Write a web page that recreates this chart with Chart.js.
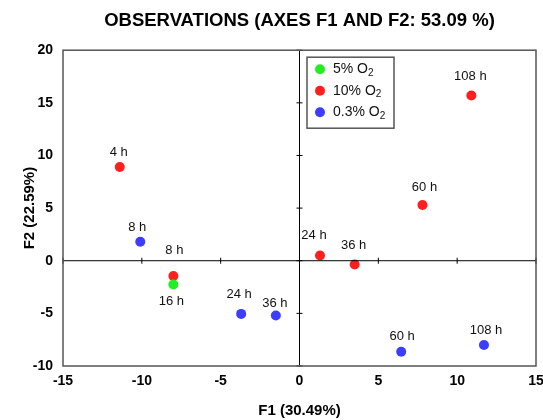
<!DOCTYPE html>
<html>
<head>
  <title>Observations F1 / F2</title>
  <script src="https://cdn.jsdelivr.net/npm/chart.js"></script>
  <style>
    body { margin: 0; background: #fff; }
    #wrap { width: 543px; height: 420px; }
  </style>
</head>
<body>
<div id="wrap"><canvas id="chartObs"></canvas></div>
<script>
// series data (F1, F2 scores)
const seriesNames = ['5% O', '10% O', '0.3% O'];
const seriesColors = ['#22ee22', '#ff1f1f', '#3d3dff'];

const o2_5_F1 = [-8.0];
const o2_5_F2 = [-2.25];
const o2_5_labels = ['16 h'];

const o2_10_F1 = [-11.4, -8.0, 1.3, 3.5, 7.8, 10.9];
const o2_10_F2 = [8.9, -1.45, 0.5, -0.35, 5.3, 15.7];
const o2_10_labels = ['4 h', '8 h', '24 h', '36 h', '60 h', '108 h'];

const o2_03_F1 = [-10.1, -3.7, -1.5, 6.45, 11.7];
const o2_03_F2 = [1.8, -5.05, -5.2, -8.65, -8.0];
const o2_03_labels = ['8 h', '24 h', '36 h', '60 h', '108 h'];

const xTicks = [-15, -10, -5, 0, 5, 10, 15];
const yTicks = [-10, -5, 0, 5, 10, 15, 20];

// label offsets in px (style only), [dx, dy] per point
const labelOffsets = [
  [[-2, 17]],
  [[-1, -15], [1, -26], [-6, -20], [-1, -19], [2, -18], [-1, -19]],
  [[-3, -14], [-2, -19], [-1, -12], [1, -15], [2, -15]]
];

function pts(xs, ys) {
  return xs.map((x, i) => ({ x: x, y: ys[i] }));
}

const pointLabels = [o2_5_labels, o2_10_labels, o2_03_labels];

const FONT = 'Liberation Sans, Arial, sans-serif';

const framePlugin = {
  id: 'frame',
  afterDraw(chart) {
    const { ctx, chartArea: a, scales } = chart;
    const x0 = scales.x.getPixelForValue(0);
    const y0 = scales.y.getPixelForValue(0);
    ctx.save();
    // zero axes
    ctx.strokeStyle = '#000';
    ctx.lineWidth = 1;
    ctx.beginPath();
    ctx.moveTo(a.left, y0); ctx.lineTo(a.right, y0);
    ctx.moveTo(x0, a.top); ctx.lineTo(x0, a.bottom);
    // small ticks on zero axes
    xTicks.forEach(v => {
      const px = scales.x.getPixelForValue(v);
      ctx.moveTo(px, y0 - 3); ctx.lineTo(px, y0 + 3);
    });
    yTicks.forEach(v => {
      const py = scales.y.getPixelForValue(v);
      ctx.moveTo(x0 - 3, py); ctx.lineTo(x0 + 3, py);
    });
    ctx.stroke();
    // outer frame
    ctx.strokeStyle = '#555';
    ctx.lineWidth = 1.5;
    ctx.strokeRect(a.left, a.top, a.right - a.left, a.bottom - a.top);

    // point labels
    ctx.fillStyle = '#111';
    ctx.font = '13px ' + FONT;
    ctx.textAlign = 'center';
    ctx.textBaseline = 'middle';
    chart.data.datasets.forEach((ds, di) => {
      const meta = chart.getDatasetMeta(di);
      meta.data.forEach((el, i) => {
        const off = labelOffsets[di][i];
        ctx.fillText(pointLabels[di][i], el.x + off[0], el.y + off[1]);
      });
    });

    // legend box
    const lx = a.left + 244, ly = a.top + 7, lw = 87, lh = 71;
    ctx.fillStyle = '#fff';
    ctx.fillRect(lx, ly, lw, lh);
    ctx.strokeStyle = '#555';
    ctx.lineWidth = 1.5;
    ctx.strokeRect(lx, ly, lw, lh);
    ctx.textAlign = 'left';
    seriesNames.forEach((name, i) => {
      const cy = ly + 12 + i * 21.5;
      ctx.fillStyle = seriesColors[i];
      ctx.beginPath();
      ctx.arc(lx + 13, cy, 5, 0, Math.PI * 2);
      ctx.fill();
      ctx.fillStyle = '#111';
      ctx.font = '14px ' + FONT;
      ctx.fillText(name, lx + 26, cy);
      const w = ctx.measureText(name).width;
      ctx.font = '10px ' + FONT;
      ctx.fillText('2', lx + 26 + w, cy + 4);
    });
    ctx.restore();
  }
};

new Chart(document.getElementById('chartObs').getContext('2d'), {
  type: 'scatter',
  data: {
    datasets: [
      { label: '5% O2', data: pts(o2_5_F1, o2_5_F2), backgroundColor: seriesColors[0] },
      { label: '10% O2', data: pts(o2_10_F1, o2_10_F2), backgroundColor: seriesColors[1] },
      { label: '0.3% O2', data: pts(o2_03_F1, o2_03_F2), backgroundColor: seriesColors[2] }
    ]
  },
  options: {
    responsive: true,
    maintainAspectRatio: false,
    animation: false,
    layout: { padding: { left: 17, right: 7, top: 0, bottom: 0 } },
    elements: { point: { radius: 5, borderWidth: 0, hoverRadius: 5 } },
    plugins: {
      legend: { display: false },
      tooltip: { enabled: false },
      title: {
        display: true,
        fullSize: false,
        text: 'OBSERVATIONS (AXES F1 AND F2: 53.09 %)',
        color: '#000',
        font: { family: FONT, size: 18.5, weight: 'bold' },
        padding: { top: 10, bottom: 18 }
      }
    },
    scales: {
      x: {
        type: 'linear',
        min: -15, max: 15,
        afterBuildTicks: s => { s.ticks = xTicks.map(v => ({ value: v })); },
        afterFit: s => { s.height = 54; s.paddingRight = 0; s.paddingLeft = 0; },
        grid: { display: false, drawTicks: false },
        border: { display: false },
        ticks: { color: '#000', padding: 7, font: { family: FONT, size: 14, weight: 'bold' } },
        title: {
          display: true, text: 'F1 (30.49%)', color: '#000',
          font: { family: FONT, size: 15, weight: 'bold' }, padding: { top: 4, bottom: 0 }
        }
      },
      y: {
        type: 'linear',
        min: -10, max: 20,
        afterBuildTicks: s => { s.ticks = yTicks.map(v => ({ value: v })); },
        afterFit: s => { s.width = 46; },
        grid: { display: false, drawTicks: false },
        border: { display: false },
        ticks: { color: '#000', padding: 10, font: { family: FONT, size: 14, weight: 'bold' } },
        title: {
          display: true, text: 'F2 (22.59%)', color: '#000',
          font: { family: FONT, size: 15, weight: 'bold' }, padding: { top: 4, bottom: 4 }
        }
      }
    }
  },
  plugins: [framePlugin]
});
</script>
</body>
</html>
